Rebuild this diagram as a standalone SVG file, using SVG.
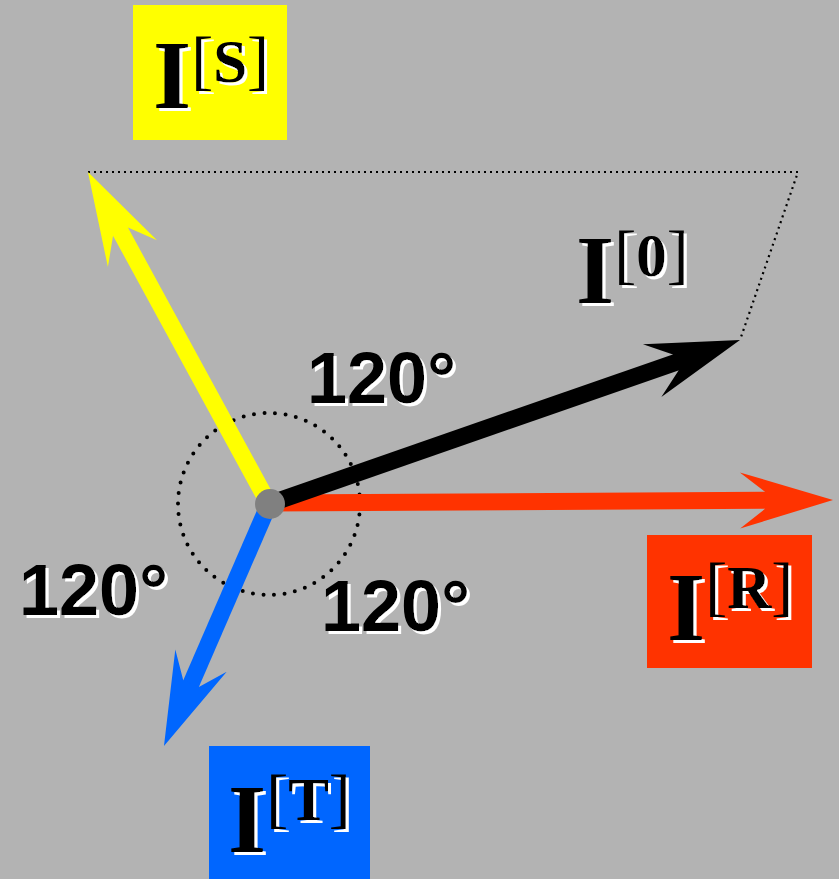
<svg xmlns="http://www.w3.org/2000/svg" width="839" height="879" viewBox="0 0 839 879">
  <style>
    .big { font-family: "Liberation Serif", "Times New Roman", serif; font-weight: bold; font-size: 98px; fill: #000; }
    .sup { font-size: 61px; font-weight: bold; }
    .br { font-weight: normal; font-size: 66px; }
    .ang { font-family: "Liberation Sans", Arial, sans-serif; font-weight: bold; font-size: 72px; text-anchor: middle; fill: #000; }
    .shaft { fill: none; stroke-width: 17; stroke-linecap: butt; }
  </style>
  <defs>
    <filter id="shBig" x="-10%" y="-10%" width="130%" height="130%">
      <feOffset in="SourceAlpha" dx="3" dy="3" result="o"/>
      <feFlood flood-color="#ffffff"/>
      <feComposite in2="o" operator="in" result="w"/>
      <feMerge><feMergeNode in="w"/><feMergeNode in="SourceGraphic"/></feMerge>
    </filter>
    <filter id="shAng" x="-10%" y="-10%" width="130%" height="130%">
      <feOffset in="SourceAlpha" dx="2.5" dy="3" result="o"/>
      <feFlood flood-color="#ffffff"/>
      <feComposite in2="o" operator="in" result="w"/>
      <feMerge><feMergeNode in="w"/><feMergeNode in="SourceGraphic"/></feMerge>
    </filter>
    <marker id="hY" markerUnits="userSpaceOnUse" viewBox="0 0 100 60" markerWidth="100" markerHeight="60" refX="60" refY="30" orient="auto" overflow="visible">
      <path d="M100,30 L7,2 L32,21.5 L32,38.5 L7,58 Z" fill="#ffff00"/>
    </marker>
    <marker id="hK" markerUnits="userSpaceOnUse" viewBox="0 0 100 60" markerWidth="100" markerHeight="60" refX="60" refY="30" orient="auto" overflow="visible">
      <path d="M100,30 L7,2 L32,21.5 L32,38.5 L7,58 Z" fill="#000000"/>
    </marker>
    <marker id="hR" markerUnits="userSpaceOnUse" viewBox="0 0 100 60" markerWidth="100" markerHeight="60" refX="60" refY="30" orient="auto" overflow="visible">
      <path d="M100,30 L7,2 L32,21.5 L32,38.5 L7,58 Z" fill="#ff3300"/>
    </marker>
    <marker id="hB" markerUnits="userSpaceOnUse" viewBox="0 0 100 60" markerWidth="100" markerHeight="60" refX="60" refY="30" orient="auto" overflow="visible">
      <path d="M100,30 L7,2 L32,21.5 L32,38.5 L7,58 Z" fill="#0066ff"/>
    </marker>
  </defs>

  <rect x="0" y="0" width="839" height="879" fill="#b3b3b3"/>

  <g id="guides">
    <path d="M88,172 L798,172 L740,340" fill="none" stroke="#000" stroke-width="2.2" stroke-dasharray="2 4"/>
    <circle cx="269" cy="504" r="91" fill="none" stroke="#000" stroke-width="4" stroke-linecap="round" stroke-dasharray="0 10.59"/>
  </g>

  <g id="connectors">
    <line class="shaft" x1="269" y1="503" x2="793" y2="500.2" stroke="#ff3300" marker-end="url(#hR)"/>
    <line class="shaft" x1="269" y1="504" x2="702.2" y2="353.2" stroke="#000000" marker-end="url(#hK)"/>
    <line class="shaft" x1="269" y1="504" x2="107.1" y2="207.1" stroke="#ffff00" marker-end="url(#hY)"/>
    <line class="shaft" x1="269" y1="504" x2="179.9" y2="709.3" stroke="#0066ff" marker-end="url(#hB)"/>
  </g>

  <g id="center">
    <circle cx="270" cy="504" r="15" fill="#808080"/>
  </g>

  <g id="label-S">
    <rect x="133" y="5" width="154" height="135" fill="#ffff00"/>
    <text class="big" x="153" y="108" filter="url(#shBig)">I<tspan class="sup" y="82"><tspan class="br">[</tspan>S<tspan class="br">]</tspan></tspan></text>
  </g>

  <g id="label-0">
    <text class="big" x="576" y="303" filter="url(#shBig)">I<tspan class="sup" y="276"><tspan class="br">[</tspan>0<tspan class="br">]</tspan></tspan></text>
  </g>

  <g id="label-R">
    <rect x="647" y="535" width="165" height="133" fill="#ff3300"/>
    <text class="big" x="667" y="640" filter="url(#shBig)">I<tspan class="sup" y="608"><tspan class="br">[</tspan>R<tspan class="br">]</tspan></tspan></text>
  </g>

  <g id="label-T">
    <rect x="209" y="746" width="161" height="133" fill="#0066ff"/>
    <text class="big" x="228" y="852" filter="url(#shBig)">I<tspan class="sup" y="820"><tspan class="br">[</tspan>T<tspan class="br">]</tspan></tspan></text>
  </g>

  <g id="angles">
    <text class="ang" x="381.5" y="403" filter="url(#shAng)">120°</text>
    <text class="ang" x="93.5" y="615" filter="url(#shAng)">120°</text>
    <text class="ang" x="395.5" y="631" filter="url(#shAng)">120°</text>
  </g>
</svg>
